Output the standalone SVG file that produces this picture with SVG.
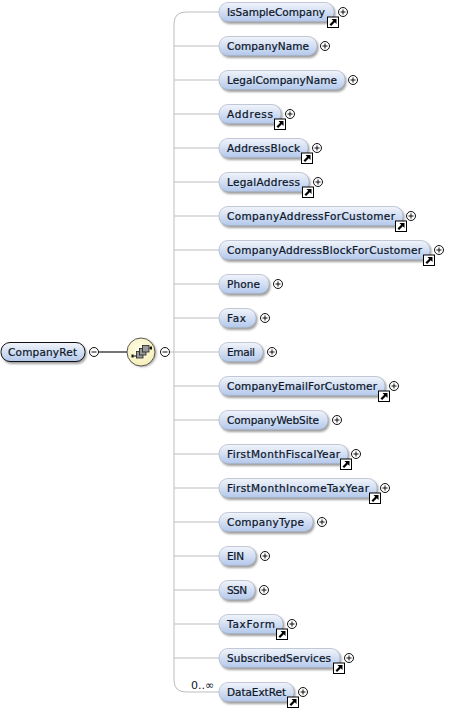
<svg xmlns="http://www.w3.org/2000/svg" width="463" height="708" viewBox="0 0 463 708">
<style>
text{font-family:"DejaVu Sans","Liberation Sans",sans-serif;font-size:10.5px;fill:#0c1629;stroke:#0c1629;stroke-width:.22}
.n{fill:url(#g);stroke:#a9b4c8;stroke-width:.7}
.sh{fill:#777;opacity:.7;filter:url(#b)}
.c{fill:none;stroke:#bdbdbd;stroke-width:1}
.p{fill:#fff;stroke:#111;stroke-width:1}
.m{fill:none;stroke:#111;stroke-width:1}
</style>
<defs>
<filter id="b" x="-10%" y="-30%" width="120%" height="160%"><feGaussianBlur stdDeviation="0.9"/></filter>
<linearGradient id="g" x1="0" y1="0" x2="0" y2="1"><stop offset="0" stop-color="#f1f4fa"/><stop offset=".5" stop-color="#d3dff3"/><stop offset="1" stop-color="#b3c8ec"/></linearGradient>
<radialGradient id="y" cx=".45" cy=".4" r=".6"><stop offset="0" stop-color="#fffdea"/><stop offset="1" stop-color="#f6efb8"/></radialGradient>
<g id="plus"><circle class="p" r="4.5"/><path class="m" d="M-2.5 0H2.5M0-2.500V2.500"/></g>
<g id="minus"><circle class="p" r="4.5"/><path class="m" d="M-2.5 0H2.5"/></g>
<g id="link"><rect x="-5.500" y="-5" width="11" height="10.500" fill="#fff" stroke="#000" stroke-width="1"/><path d="M-3.500 2.400L.2-1.300L-1.500-3H3.500V2L1.800.3L-1.900 4Z" fill="#000"/></g>
</defs>
<g id="connectors">
<path d="M99 352H128" fill="none" stroke="#666" stroke-width="1.8"/>
<path class="c" d="M170 352H219M219 12H186Q174 12 174 24V680Q174 692 186 692H219M174 46H219M174 80H219M174 114H219M174 148H219M174 182H219M174 216H219M174 250H219M174 284H219M174 318H219M174 386H219M174 420H219M174 454H219M174 488H219M174 522H219M174 556H219M174 590H219M174 624H219M174 658H219"/>
</g>
<g id="CompanyRet"><rect class="sh" x="2.500" y="344" width="84" height="20" rx="9"/><rect x="1" y="342.500" width="84" height="19" rx="9" fill="url(#g)" stroke="#111" stroke-width="1"/><text x="8" y="356" textLength="69">CompanyRet</text><use href="#minus" x="94" y="352"/></g>
<g id="sequence"><circle cx="142.500" cy="353" r="14" fill="#888" opacity=".7" filter="url(#b)"/><circle cx="141" cy="352" r="14" fill="url(#y)" stroke="#333" stroke-width=".8"/><path d="M133 356H137M148 348H151" stroke="#111" fill="none"/><rect x="136.500" y="351.500" width="6.500" height="6.500" fill="#999" stroke="#222" stroke-width=".8"/><rect x="139.500" y="348.500" width="6.500" height="6.500" fill="#999" stroke="#222" stroke-width=".8"/><rect x="142.500" y="345.500" width="6.500" height="6.500" fill="#999" stroke="#222" stroke-width=".8"/><rect x="131.500" y="354.500" width="2" height="3" fill="#111"/><rect x="150" y="346.500" width="2" height="3" fill="#111"/><use href="#minus" x="165" y="352"/></g>
<g id="IsSampleCompany"><rect class="sh" x="220.500" y="4" width="115" height="20" rx="9"/><rect class="n" x="219" y="2.500" width="115" height="19" rx="9"/><text x="227" y="16" textLength="98">IsSampleCompany</text><use href="#plus" x="343" y="12"/><use href="#link" x="333" y="22"/></g>
<g id="CompanyName"><rect class="sh" x="220.500" y="38" width="98" height="20" rx="9"/><rect class="n" x="219" y="36.500" width="98" height="19" rx="9"/><text x="227" y="50" textLength="82">CompanyName</text><use href="#plus" x="325" y="46"/></g>
<g id="LegalCompanyName"><rect class="sh" x="220.500" y="72" width="126" height="20" rx="9"/><rect class="n" x="219" y="70.500" width="126" height="19" rx="9"/><text x="227" y="84" textLength="110">LegalCompanyName</text><use href="#plus" x="353" y="80"/></g>
<g id="Address"><rect class="sh" x="220.500" y="106" width="62" height="20" rx="9"/><rect class="n" x="219" y="104.500" width="62" height="19" rx="9"/><text x="227" y="118" textLength="46">Address</text><use href="#plus" x="290" y="114"/><use href="#link" x="280" y="124"/></g>
<g id="AddressBlock"><rect class="sh" x="220.500" y="140" width="89" height="20" rx="9"/><rect class="n" x="219" y="138.500" width="89" height="19" rx="9"/><text x="227" y="152" textLength="73">AddressBlock</text><use href="#plus" x="317" y="148"/><use href="#link" x="307" y="158"/></g>
<g id="LegalAddress"><rect class="sh" x="220.500" y="174" width="90" height="20" rx="9"/><rect class="n" x="219" y="172.500" width="90" height="19" rx="9"/><text x="227" y="186" textLength="73">LegalAddress</text><use href="#plus" x="318" y="182"/><use href="#link" x="308" y="192"/></g>
<g id="CompanyAddressForCustomer"><rect class="sh" x="220.500" y="208" width="184" height="20" rx="9"/><rect class="n" x="219" y="206.500" width="184" height="19" rx="9"/><text x="227" y="220" textLength="168">CompanyAddressForCustomer</text><use href="#plus" x="411" y="216"/><use href="#link" x="401" y="226"/></g>
<g id="CompanyAddressBlockForCustomer"><rect class="sh" x="220.500" y="242" width="211" height="20" rx="9"/><rect class="n" x="219" y="240.500" width="211" height="19" rx="9"/><text x="227" y="254" textLength="195">CompanyAddressBlockForCustomer</text><use href="#plus" x="439" y="250"/><use href="#link" x="429" y="260"/></g>
<g id="Phone"><rect class="sh" x="220.500" y="276" width="50" height="20" rx="9"/><rect class="n" x="219" y="274.500" width="50" height="19" rx="9"/><text x="227" y="288" textLength="33">Phone</text><use href="#plus" x="278" y="284"/></g>
<g id="Fax"><rect class="sh" x="220.500" y="310" width="37" height="20" rx="9"/><rect class="n" x="219" y="308.500" width="37" height="19" rx="9"/><text x="227" y="322" textLength="19">Fax</text><use href="#plus" x="265" y="318"/></g>
<g id="Email"><rect class="sh" x="220.500" y="344" width="44" height="20" rx="9"/><rect class="n" x="219" y="342.500" width="44" height="19" rx="9"/><text x="227" y="356" textLength="28">Email</text><use href="#plus" x="272" y="352"/></g>
<g id="CompanyEmailForCustomer"><rect class="sh" x="220.500" y="378" width="166" height="20" rx="9"/><rect class="n" x="219" y="376.500" width="166" height="19" rx="9"/><text x="227" y="390" textLength="150">CompanyEmailForCustomer</text><use href="#plus" x="394" y="386"/><use href="#link" x="384" y="396"/></g>
<g id="CompanyWebSite"><rect class="sh" x="220.500" y="412" width="109" height="20" rx="9"/><rect class="n" x="219" y="410.500" width="109" height="19" rx="9"/><text x="227" y="424" textLength="92">CompanyWebSite</text><use href="#plus" x="337" y="420"/></g>
<g id="FirstMonthFiscalYear"><rect class="sh" x="220.500" y="446" width="129" height="20" rx="9"/><rect class="n" x="219" y="444.500" width="129" height="19" rx="9"/><text x="227" y="458" textLength="113">FirstMonthFiscalYear</text><use href="#plus" x="356" y="454"/><use href="#link" x="346" y="464"/></g>
<g id="FirstMonthIncomeTaxYear"><rect class="sh" x="220.500" y="480" width="158" height="20" rx="9"/><rect class="n" x="219" y="478.500" width="158" height="19" rx="9"/><text x="227" y="492" textLength="142">FirstMonthIncomeTaxYear</text><use href="#plus" x="385" y="488"/><use href="#link" x="375" y="498"/></g>
<g id="CompanyType"><rect class="sh" x="220.500" y="514" width="94" height="20" rx="9"/><rect class="n" x="219" y="512.500" width="94" height="19" rx="9"/><text x="227" y="526" textLength="77">CompanyType</text><use href="#plus" x="322" y="522"/></g>
<g id="EIN"><rect class="sh" x="220.500" y="548" width="37" height="20" rx="9"/><rect class="n" x="219" y="546.500" width="37" height="19" rx="9"/><text x="227" y="560" textLength="17">EIN</text><use href="#plus" x="265" y="556"/></g>
<g id="SSN"><rect class="sh" x="220.500" y="582" width="36" height="20" rx="9"/><rect class="n" x="219" y="580.500" width="36" height="19" rx="9"/><text x="227" y="594" textLength="20">SSN</text><use href="#plus" x="264" y="590"/></g>
<g id="TaxForm"><rect class="sh" x="220.500" y="616" width="64" height="20" rx="9"/><rect class="n" x="219" y="614.500" width="64" height="19" rx="9"/><text x="227" y="628" textLength="48">TaxForm</text><use href="#plus" x="292" y="624"/><use href="#link" x="282" y="634"/></g>
<g id="SubscribedServices"><rect class="sh" x="220.500" y="650" width="121" height="20" rx="9"/><rect class="n" x="219" y="648.500" width="121" height="19" rx="9"/><text x="227" y="662" textLength="104">SubscribedServices</text><use href="#plus" x="349" y="658"/><use href="#link" x="339" y="668"/></g>
<g id="DataExtRet"><rect class="sh" x="220.500" y="684" width="75" height="20" rx="9"/><rect class="n" x="219" y="682.500" width="75" height="19" rx="9"/><text x="227" y="696" textLength="59">DataExtRet</text><use href="#plus" x="303" y="692"/><use href="#link" x="293" y="702"/><text x="191" y="689" style="stroke:none;font-size:11px">0..∞</text></g>
</svg>
